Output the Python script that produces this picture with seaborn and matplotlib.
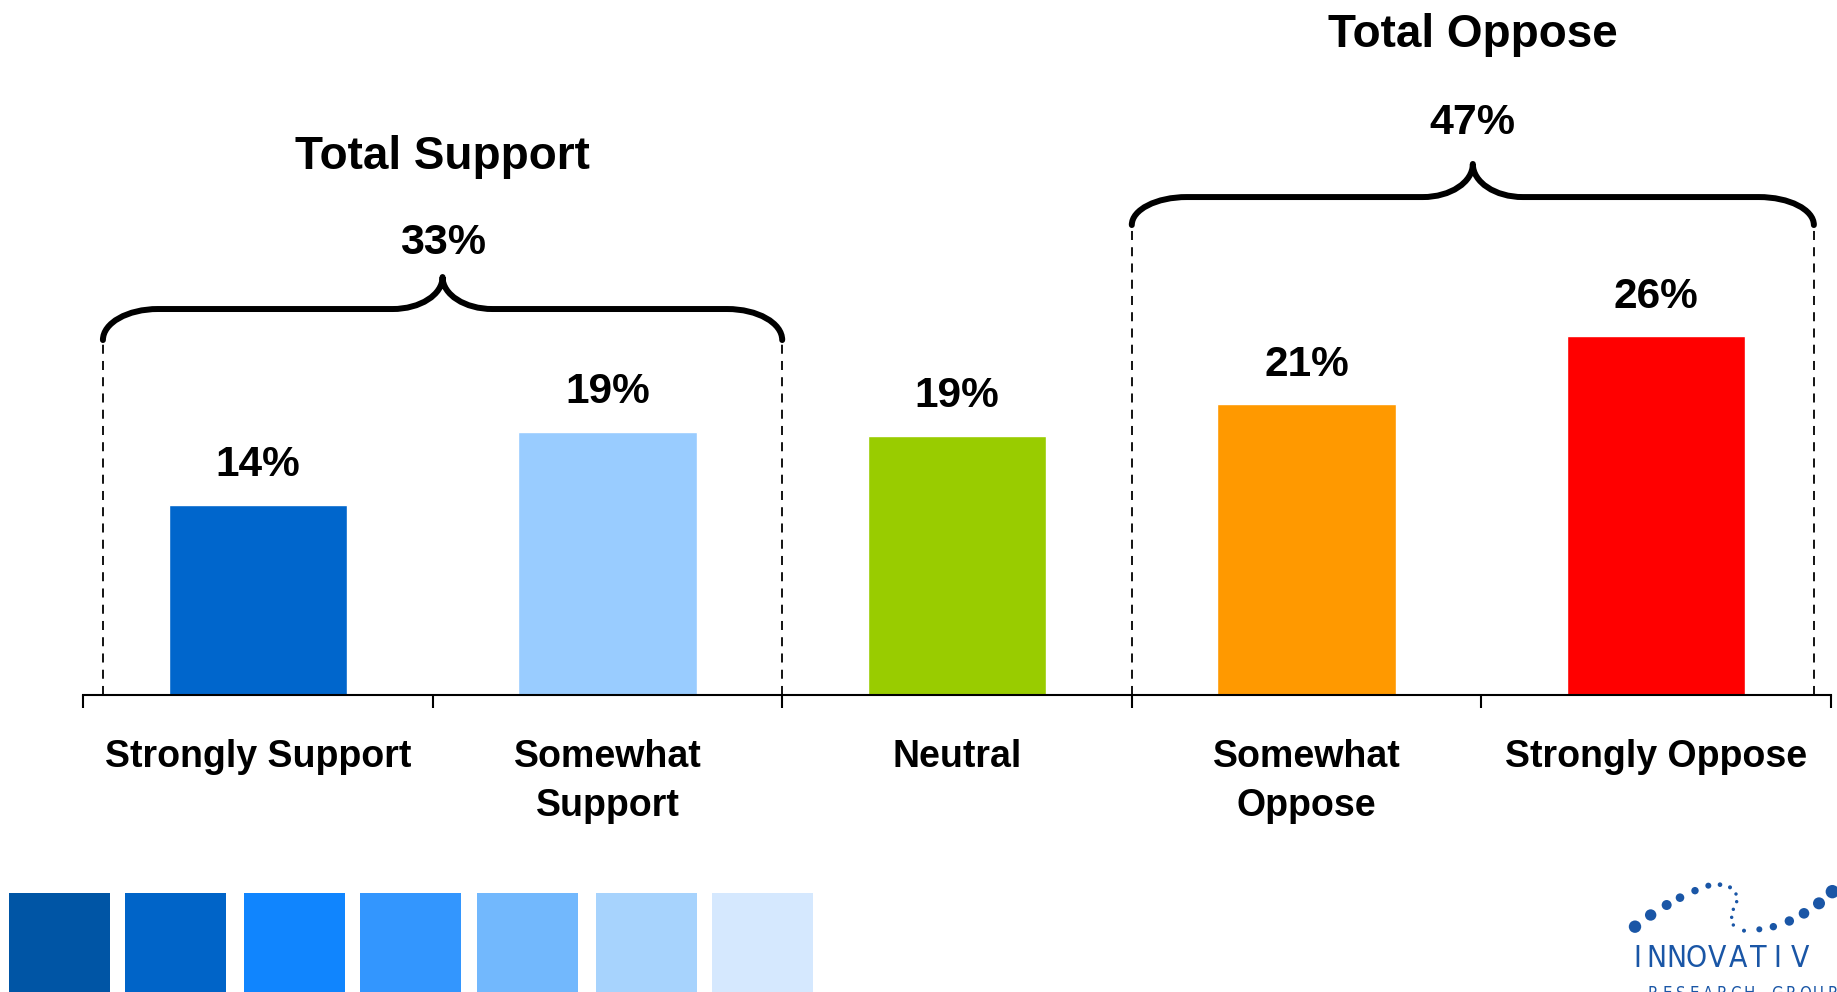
import matplotlib
matplotlib.use("Agg")
import matplotlib.pyplot as plt
from matplotlib.path import Path
from matplotlib.patches import PathPatch, Rectangle, Ellipse
import seaborn as sns
import pandas as pd

# ---------------- data ----------------
categories = ["Strongly Support", "Somewhat Support", "Neutral", "Somewhat Oppose", "Strongly Oppose"]
tick_labels = ["Strongly Support", "Somewhat\nSupport", "Neutral", "Somewhat\nOppose", "Strongly Oppose"]
values = [13.8, 19.1, 18.8, 21.1, 26.0]
value_labels = ["14%", "19%", "19%", "21%", "26%"]
bar_colors = ["#0066CC", "#99CCFF", "#99CC00", "#FF9900", "#FF0000"]

group_titles = ["Total Support", "Total Oppose"]
group_totals = ["33%", "47%"]
group_spans = [(-0.443, 1.5), (2.5, 4.451)]
# brace levels: (end, flat, peak, total label, title)
group_levels = [(25.74, 27.99, 30.31, 32.75, 39.0), (34.08, 36.11, 38.51, 41.48, 47.85)]

swatch_colors = ["#0055A5", "#0064C8", "#1085FE", "#3396FE", "#72B8FD", "#A7D3FD", "#D5E8FE"]

# ---------------- style ----------------
sns.set_theme(style="white")
plt.rcParams["font.family"] = ["Liberation Sans", "DejaVu Sans"]

W, H = 1837, 992
fig = plt.figure(figsize=(W / 100, H / 100), dpi=100)
fig.patch.set_facecolor("white")

ax_left, ax_right, ax_base = 83, 1831, 695
YMAX = 50.4
ax = fig.add_axes([ax_left / W, 1 - ax_base / H, (ax_right - ax_left) / W, ax_base / H])
ax.set_facecolor("none")

df = pd.DataFrame({"cat": categories, "val": values})
sns.barplot(data=df, x="cat", y="val", hue="cat", palette=bar_colors, legend=False,
            width=0.51, saturation=1, ax=ax, order=categories, hue_order=categories)

ax.set_xlim(-0.5, 4.5)
ax.set_ylim(0, YMAX)
for s in ["top", "left", "right"]:
    ax.spines[s].set_visible(False)
ax.spines["bottom"].set_linewidth(1.5)
ax.spines["bottom"].set_color("black")
ax.set_xlabel("")
ax.set_ylabel("")
ax.set_yticks([])

# major ticks at boundaries, labels on minor ticks at centers
ax.set_xticks([i - 0.5 for i in range(len(categories) + 1)])
ax.set_xticklabels([])
ax.set_xticks(range(len(categories)), minor=True)
ax.set_xticklabels(tick_labels, minor=True, fontsize=27, fontweight="bold",
                   linespacing=1.45, multialignment="center", color="black")
ax.tick_params(axis="x", which="major", direction="out", length=9.5, width=1.5,
               color="black", bottom=True)
ax.tick_params(axis="x", which="minor", length=0, pad=32, bottom=True)

# value labels
for i, (v, lab) in enumerate(zip(values, value_labels)):
    ax.text(i, v + 2.85, lab, ha="center", va="center", fontsize=30.5, fontweight="bold",
            color="black")

# braces
px_per_unit_x = (ax_right - ax_left) / 5.0


def brace(x0, x1, y_end, y_flat, y_peak, lw=4.3):
    k = 0.552
    xc = (x0 + x1) / 2
    r_end = 55 / px_per_unit_x
    r_mid = 50 / px_per_unit_x
    verts = [
        (x0, y_end),
        (x0, y_end + k * (y_flat - y_end)), (x0 + r_end * (1 - k), y_flat), (x0 + r_end, y_flat),
        (xc - r_mid, y_flat),
        (xc - r_mid + k * r_mid, y_flat), (xc, y_peak - k * (y_peak - y_flat)), (xc, y_peak),
        (xc, y_peak - k * (y_peak - y_flat)), (xc + r_mid - k * r_mid, y_flat), (xc + r_mid, y_flat),
        (x1 - r_end, y_flat),
        (x1 - r_end * (1 - k), y_flat), (x1, y_end + k * (y_flat - y_end)), (x1, y_end),
    ]
    codes = [Path.MOVETO,
             Path.CURVE4, Path.CURVE4, Path.CURVE4,
             Path.LINETO,
             Path.CURVE4, Path.CURVE4, Path.CURVE4,
             Path.CURVE4, Path.CURVE4, Path.CURVE4,
             Path.LINETO,
             Path.CURVE4, Path.CURVE4, Path.CURVE4]
    patch = PathPatch(Path(verts, codes), facecolor="none", edgecolor="black", lw=lw,
                      capstyle="round", joinstyle="round", clip_on=False)
    ax.add_patch(patch)
    for x in (x0, x1):
        ax.plot([x, x], [0, y_end - 0.2], color="black", lw=1.3,
                linestyle=(0, (5, 4)), clip_on=False)
    return xc


for (x0, x1), (ye, yf, yp, yt, yh), title, tot in zip(group_spans, group_levels,
                                                      group_titles, group_totals):
    xc = brace(x0, x1, ye, yf, yp)
    ax.text(xc, yt, tot, ha="center", va="center", fontsize=31, fontweight="bold", color="black")
    ax.text(xc, yh, title, ha="center", va="center", fontsize=33, fontweight="bold", color="black")

# decorative swatches (bottom-left)
sw_x = [9, 125, 244, 360, 477, 596, 712]
for x, c in zip(sw_x, swatch_colors):
    fig.patches.append(Rectangle((x / W, 0), 101 / W, (H - 893) / H, transform=fig.transFigure,
                                 facecolor=c, edgecolor="none", zorder=0))

# logo (bottom-right)
logo_blue = "#1A56A6"
dots = [(105, 170, 6.2), (152, 135, 5.7), (200, 105, 5.0), (240, 83, 4.3), (285, 62, 3.7),
        (325, 47, 3.0), (360, 44, 2.3), (390, 52, 2.0), (408, 72, 1.7), (410, 95, 1.7),
        (400, 118, 1.7), (395, 142, 1.7), (400, 165, 1.7), (432, 182, 2.0), (478, 178, 3.0),
        (520, 170, 3.7), (568, 153, 4.7), (612, 130, 5.3), (657, 100, 6.0), (697, 65, 6.7)]
for zx, zy, r in dots:
    cx = 1600 + zx / 3
    cy = 870 + zy / 3
    fig.patches.append(Ellipse((cx / W, 1 - cy / H), 2 * r / W, 2 * r / H,
                               transform=fig.transFigure, facecolor=logo_blue, edgecolor="none"))
logo_x = [1637, 1656, 1676, 1696, 1717, 1738, 1758, 1777, 1800]
for x, ch in zip(logo_x, "INNOVATIV"):
    fig.text(x / W, 1 - 967 / H, ch, ha="center", va="baseline", fontsize=21.5,
             color=logo_blue, family=["DejaVu Sans"], fontstretch="condensed")
for j, ch in enumerate("RESEARCH GROUP"):
    fig.text((1653 + j * 13.8) / W, 1 - 999 / H, ch, ha="center", va="baseline", fontsize=12,
             color=logo_blue, family=["DejaVu Sans"], fontstretch="condensed")

fig.savefig("out.png", dpi=100)
